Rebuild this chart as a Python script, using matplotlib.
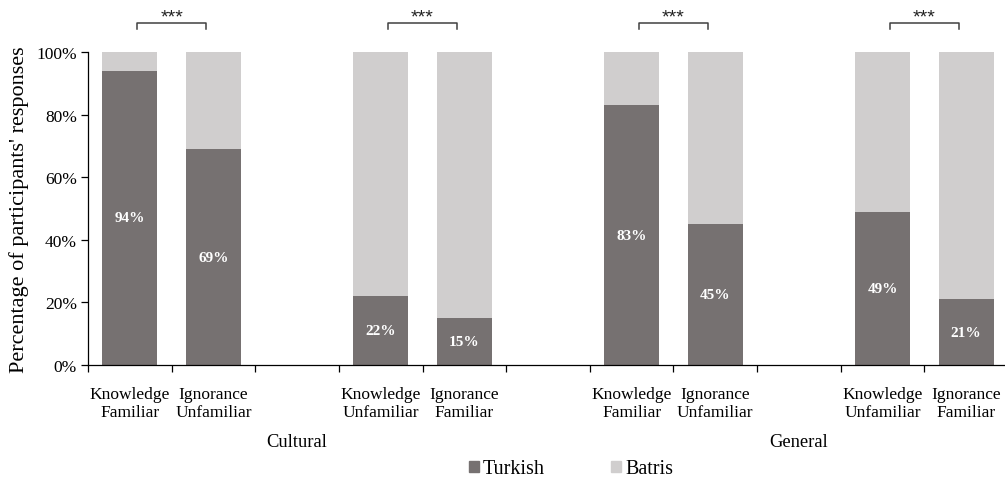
import matplotlib
matplotlib.use('Agg')
import matplotlib.pyplot as plt
from matplotlib.patches import Patch

matplotlib.rcParams['font.family'] = 'Liberation Serif'
matplotlib.rcParams['font.size'] = 12.5

# data
conditions = ['Knowledge\nFamiliar', 'Ignorance\nUnfamiliar', 'Knowledge\nUnfamiliar', 'Ignorance\nFamiliar',
              'Knowledge\nFamiliar', 'Ignorance\nUnfamiliar', 'Knowledge\nUnfamiliar', 'Ignorance\nFamiliar']
groups = ['Cultural', 'General']
turkish = [94, 69, 22, 15, 83, 45, 49, 21]
batris = [6, 31, 78, 85, 17, 55, 51, 79]
significance = ['***', '***', '***', '***']

dark = '#767171'
light = '#D0CECE'

# slot layout: two bars, one empty slot, two bars, ...
pos = [0, 1, 3, 4, 6, 7, 9, 10]

fig = plt.figure(figsize=(10.05, 4.81), dpi=100)
ax = fig.add_axes([88 / 1005, 1 - 366 / 481, 920 / 1005, 313 / 481])

t = [v / 100 for v in turkish]
b = [v / 100 for v in batris]
ax.bar(pos, t, width=0.66, color=dark, zorder=2)
ax.bar(pos, b, bottom=t, width=0.66, color=light, zorder=2)

for x, v in zip(pos, turkish):
    ax.text(x, v / 200, f'{v}%', ha='center', va='center', color='white',
            fontsize=11, fontweight='bold')

ax.set_xlim(-0.5, 10.5)
ax.set_ylim(0, 1)
ax.set_yticks([0, 0.2, 0.4, 0.6, 0.8, 1.0])
ax.set_yticklabels(['0%', '20%', '40%', '60%', '80%', '100%'])
ax.set_ylabel("Percentage of participants' responses", fontsize=16, labelpad=5)

ax.set_xticks(pos)
ax.set_xticklabels(conditions, linespacing=1.15)
ax.set_xticks([p - 0.5 for p in range(12)], minor=True)
ax.tick_params(axis='x', which='major', length=0, pad=15)
ax.tick_params(axis='x', which='minor', length=5, width=0.9, direction='out')
ax.tick_params(axis='y', length=5, width=0.9, direction='out', pad=3)

for side in ['top', 'right']:
    ax.spines[side].set_visible(False)
for side in ['left', 'bottom']:
    ax.spines[side].set_linewidth(0.9)

# group names under the condition labels
for gx, name in zip([2, 8], groups):
    ax.text(gx, -0.243, name, ha='center', va='center', fontsize=13.3,
            transform=ax.get_xaxis_transform())

# significance brackets
for k, s in enumerate(significance):
    x1, x2 = pos[2 * k] + 0.09, pos[2 * k + 1] - 0.09
    ax.plot([x1, x1, x2, x2], [1.075, 1.093, 1.093, 1.075], color='#404040', lw=1.1,
            clip_on=False)
    ax.text((x1 + x2) / 2, 1.096, s, ha='center', va='baseline', fontsize=14,
            family='Liberation Sans', color='#222222', clip_on=False)

handles = [Patch(color=dark, label='Turkish'), Patch(color=light, label='Batris')]
fig.legend(handles=handles, loc='center', bbox_to_anchor=(571 / 1005, 1 - 470 / 481), ncol=2,
           frameon=False, fontsize=14.5, handlelength=0.5, handleheight=0.5, handletextpad=0.2,
           columnspacing=3.3, borderpad=0.2)

fig.savefig('out.png', dpi=100)
